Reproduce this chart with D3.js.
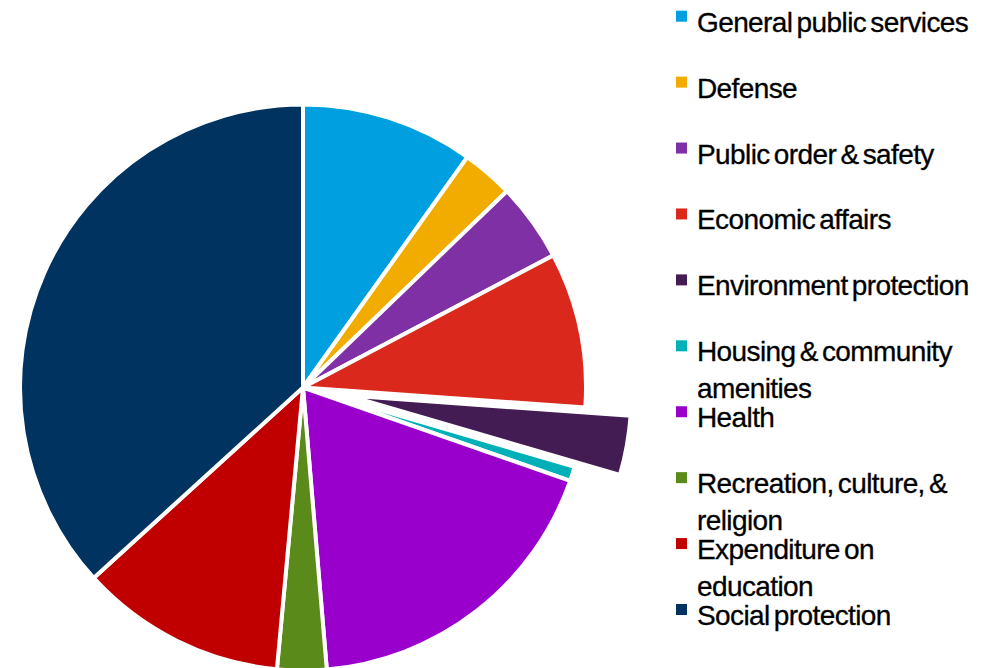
<!DOCTYPE html>
<html>
<head>
<meta charset="utf-8">
<script src="https://cdn.jsdelivr.net/npm/d3@7"></script>
<style>
  body { margin: 0; background: #fff; }
  #display text { font-family: "Liberation Sans", Arial, sans-serif; }
</style>
</head>
<body>
<svg id="display" width="996" height="668"></svg>
<script>
// spending shares, percent of total
var categories = ["General public services", "Defense", "Public order & safety", "Economic affairs",
  "Environment protection", "Housing & community amenities", "Health",
  "Recreation, culture, & religion", "Expenditure on education", "Social protection"];
var shares = [9.86, 2.94, 4.47, 8.86, 3.39, 0.83, 18.31, 2.81, 11.78, 36.75];
var colours = ["#009fdf", "#f2ac00", "#7f30a5", "#da291c", "#421c53",
  "#00b0b9", "#9900cc", "#5a8a19", "#c00000", "#00335f"];
// legend text as it wraps in the original
var legendLines = [["General public services"], ["Defense"], ["Public order & safety"], ["Economic affairs"],
  ["Environment protection"], ["Housing & community", "amenities"], ["Health"],
  ["Recreation, culture, &", "religion"], ["Expenditure on", "education"], ["Social protection"]];
var exploded = "Environment protection";

var svg = d3.select("#display"),
  cx = 303, cy = 387.5,
  radius = 283,
  explodeBy = 46;

var data = categories.map(function(c, i) { return {name: c, value: shares[i]}; });

var pie = d3.pie()
    .sort(null)
    .value(function(d) { return d.value; });

var arc = d3.arc()
    .innerRadius(0)
    .outerRadius(radius);

var colour = d3.scaleOrdinal()
    .domain(categories)
    .range(colours);

var g = svg.append("g")
    .attr("transform", "translate(" + cx + "," + cy + ")");

g.selectAll("path")
  .data(pie(data))
  .enter().append("path")
    .attr("d", arc)
    .attr("fill", function(d) { return colour(d.data.name); })
    .attr("stroke", "#fff")
    .attr("stroke-width", 4)
    .attr("stroke-linejoin", "round")
    .attr("transform", function(d) {
      if (d.data.name != exploded) return null;
      var a = (d.startAngle + d.endAngle) / 2;
      return "translate(" + (Math.sin(a) * explodeBy) + "," + (-Math.cos(a) * explodeBy) + ")";
    });

// legend
var legendY = d3.scaleLinear()
    .domain([0, categories.length - 1])
    .range([31.7, 625]);

var legend = svg.append("g")
  .selectAll("g")
  .data(categories)
  .enter().append("g")
    .attr("transform", function(d, i) { return "translate(676," + legendY(i) + ")"; });

legend.append("rect")
    .attr("x", 0)
    .attr("y", -21)
    .attr("width", 11)
    .attr("height", 11)
    .attr("fill", colour);

legend.append("text")
    .attr("x", 21)
    .attr("y", 0)
    .attr("font-size", 28)
    .attr("letter-spacing", -0.6)
    .attr("word-spacing", -3)
    .attr("fill", "#000")
    .attr("stroke", "#000")
    .attr("stroke-width", 0.3)
    .selectAll("tspan")
    .data(function(d, i) { return legendLines[i]; })
    .enter().append("tspan")
      .attr("x", 21)
      .attr("dy", function(d, j) { return j ? 36.7 : 0; })
      .text(function(d) { return d; });
</script>
</body>
</html>
